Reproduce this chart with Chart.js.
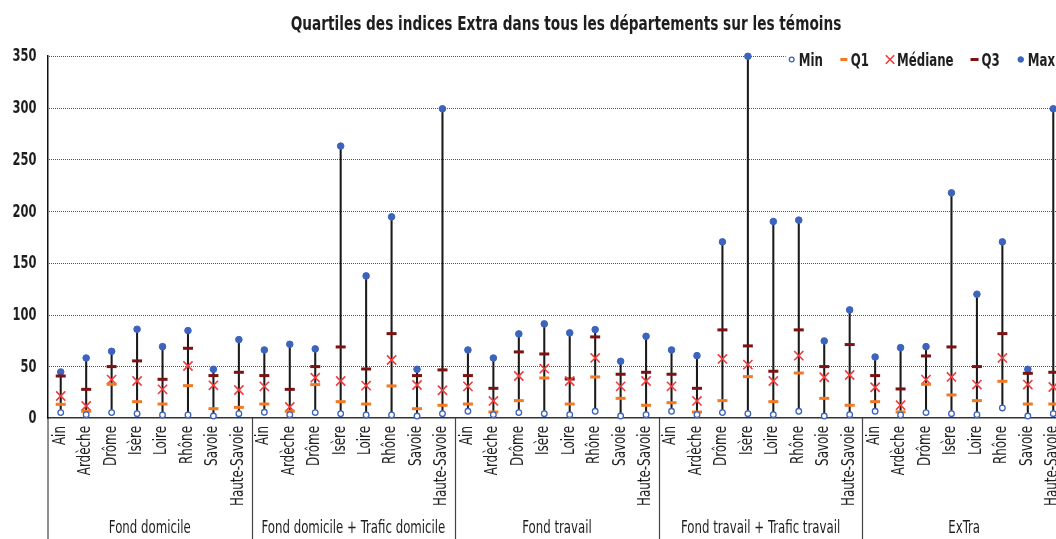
<!DOCTYPE html>
<html>
<head>
<meta charset="utf-8">
<script src="https://cdn.jsdelivr.net/npm/chart.js@4.4.1/dist/chart.umd.min.js"></script>
<style>
  html, body { margin: 0; padding: 0; background: #fff; overflow: hidden; }
  #wrap { position: relative; width: 1132px; height: 539px; }
</style>
</head>
<body>
<div id="wrap"><canvas id="c"></canvas></div>
<script>
const titre = 'Quartiles des indices Extra dans tous les départements sur les témoins';
const departements = ['Ain','Ardèche','Drôme','Isère','Loire','Rhône','Savoie','Haute-Savoie'];
const groupes = ['Fond domicile','Fond domicile + Trafic domicile','Fond travail','Fond travail + Trafic travail','ExTra'];
const yTicks = [0, 50, 100, 150, 200, 250, 300, 350];

const minVals = [
  5.2, 3.2, 5.2, 4.2, 2.9, 2.9, 1.9, 4.2,
  5.5, 3.2, 5.2, 4.2, 2.9, 2.9, 1.9, 4.2,
  6.5, 3.2, 5.2, 4.2, 3.2, 6.5, 1.9, 3.2,
  6.5, 3.2, 5.2, 4.2, 3.2, 6.5, 1.9, 3.2,
  6.5, 2.9, 5.2, 4.2, 3.2, 9.7, 1.9, 4.2
];
const q1Vals = [
  13.2, 6.5, 32.6, 15.8, 13.5, 31.3, 9.0, 10.3,
  13.5, 6.5, 32.3, 15.8, 13.5, 31.0, 9.0, 12.3,
  13.5, 5.8, 16.8, 38.7, 13.5, 39.7, 19.0, 12.3,
  14.8, 5.8, 16.8, 40.0, 15.8, 43.5, 19.0, 12.3,
  15.8, 5.9, 32.6, 22.3, 16.8, 35.5, 13.5, 13.5
];
const medVals = [
  21.3, 11.6, 37.1, 35.8, 27.7, 50.3, 31.6, 27.1,
  30.6, 10.6, 39.0, 35.8, 31.3, 56.1, 31.9, 26.8,
  30.6, 16.5, 40.6, 47.7, 35.8, 58.1, 30.6, 35.8,
  30.6, 16.5, 57.1, 51.6, 35.8, 60.3, 39.4, 41.6,
  29.7, 12.4, 37.1, 39.7, 32.3, 58.1, 32.3, 30.0
];
const q3Vals = [
  40.6, 27.7, 49.7, 55.2, 37.4, 67.4, 41.0, 44.2,
  41.0, 27.7, 49.7, 68.7, 47.4, 81.6, 41.0, 46.5,
  41.0, 28.7, 63.9, 61.9, 37.7, 78.4, 42.3, 44.2,
  42.3, 28.7, 85.2, 69.7, 45.2, 85.2, 49.7, 71.0,
  41.0, 28.1, 60.0, 68.7, 49.7, 81.6, 43.2, 44.2
];
const maxVals = [
  44.5, 58.0, 64.5, 85.8, 69.0, 84.5, 47.1, 75.8,
  65.8, 71.3, 66.8, 262.9, 137.4, 194.5, 47.1, 299.0,
  65.8, 58.0, 81.3, 91.0, 82.3, 85.5, 54.8, 79.0,
  65.8, 60.3, 170.3, 349.7, 190.0, 191.3, 74.5, 104.5,
  59.0, 68.0, 69.0, 217.7, 119.7, 170.3, 47.1, 299.0
];

const labels = [];
groupes.forEach(() => departements.forEach(d => labels.push(d)));
const ranges = minVals.map((v, i) => [v, maxVals[i]]);

const FAM = '"DejaVu Sans Condensed", "DejaVu Sans", sans-serif';
const BLUE = '#3c63bd', ORANGE = '#f47a22', RED = '#f23b3b', DARKRED = '#7c1212', INK = '#1e1e1e';

// condensed text: horizontal squeeze of a real font
function ctext(ctx, text, x, y, o) {
  ctx.save();
  ctx.translate(x, y);
  if (o.rotate) ctx.rotate(o.rotate);
  ctx.scale(o.sx, 1);
  ctx.font = o.font;
  ctx.fillStyle = o.color || INK;
  ctx.textAlign = o.align || 'left';
  ctx.textBaseline = o.baseline || 'alphabetic';
  ctx.fillText(text, 0, 0);
  ctx.restore();
}
function cwidth(ctx, text, font, sx) {
  ctx.save(); ctx.font = font; const w = ctx.measureText(text).width * sx; ctx.restore(); return w;
}

function drawMarker(ctx, style, x, y, r, fill, stroke, lw) {
  ctx.save();
  ctx.lineWidth = lw;
  ctx.strokeStyle = stroke;
  ctx.fillStyle = fill;
  ctx.beginPath();
  if (style === 'circle') {
    ctx.arc(x, y, r, 0, Math.PI * 2);
    ctx.fill();
    ctx.stroke();
  } else if (style === 'line') {
    ctx.moveTo(x - r, y); ctx.lineTo(x + r, y); ctx.stroke();
  } else if (style === 'crossRot') {
    const d = r * Math.SQRT1_2;
    ctx.moveTo(x - d, y - d); ctx.lineTo(x + d, y + d);
    ctx.moveTo(x + d, y - d); ctx.lineTo(x - d, y + d);
    ctx.stroke();
  }
  ctx.restore();
}

// dotted horizontal grid lines, placed by the y scale
const dottedGrid = {
  id: 'dottedGrid',
  beforeDatasetsDraw(chart, args, opts) {
    const ctx = chart.ctx, ca = chart.chartArea, ys = chart.scales.y;
    ctx.save();
    ctx.strokeStyle = opts.color;
    ctx.lineWidth = 1;
    ctx.setLineDash([1, 1]);
    ys.ticks.forEach(t => {
      if (t.value === 0) return;
      const y = Math.round(ys.getPixelForValue(t.value)) + 0.5;
      ctx.beginPath();
      ctx.moveTo(ca.left + 1, y);
      ctx.lineTo(ca.right, y);
      ctx.stroke();
    });
    ctx.restore();
  }
};

const textLayer = {
  id: 'textLayer',
  afterDraw(chart, args, opts) {
    const ctx = chart.ctx;
    const ca = chart.chartArea;
    const xs = chart.scales.x, ys = chart.scales.y;
    const n = departements.length;
    const H = chart.height;

    ctext(ctx, titre, chart.width / 2, opts.title.baseline, { font: opts.title.font, sx: opts.title.sx, align: 'center' });

    ys.ticks.forEach(t => {
      ctext(ctx, String(t.value), ca.left - opts.y.gap, ys.getPixelForValue(t.value) + 1,
        { font: opts.y.font, sx: opts.y.sx, align: 'right', baseline: 'middle' });
    });

    labels.forEach((lab, i) => {
      ctext(ctx, lab, xs.getPixelForValue(i) - 0.5, ca.bottom + opts.x.gap,
        { font: opts.x.font, sx: opts.x.sx, align: 'right', baseline: 'middle', rotate: -Math.PI / 2 });
    });

    ctx.save();
    ctx.strokeStyle = opts.groups.lineColor;
    ctx.lineWidth = 1.2;
    ctx.beginPath();
    ctx.moveTo(ca.left, ca.bottom); ctx.lineTo(ca.left, H);
    for (let g = 1; g < groupes.length; g++) {
      const xb = Math.round((xs.getPixelForValue(g * n - 1) + xs.getPixelForValue(g * n)) / 2) + 0.5;
      ctx.moveTo(xb, ca.bottom); ctx.lineTo(xb, H);
    }
    ctx.stroke();
    ctx.restore();
    groupes.forEach((g, gi) => {
      const x0 = xs.getPixelForValue(gi * n), x1 = xs.getPixelForValue(gi * n + n - 1);
      ctext(ctx, g, (x0 + x1) / 2, H - opts.groups.bottomInset, { font: opts.groups.font, sx: opts.groups.sx, align: 'center' });
    });

    const L = opts.legend;
    const items = chart.data.datasets.filter(d => d.legendMarker);
    const tw = items.map(d => cwidth(ctx, d.label, L.font, L.sx));
    const total = tw.reduce((a, b) => a + b, 0) + items.length * L.markerToText + (items.length - 1) * L.textToMarker;
    let x = ca.right - L.rightInset - total;
    const yMid = ca.top + L.dy;
    ctx.save();
    ctx.fillStyle = '#fff';
    ctx.fillRect(x - 6, yMid - 8, total + 40, 17);
    ctx.restore();
    items.forEach((d, i) => {
      const m = d.legendMarker;
      drawMarker(ctx, m.style, x, yMid, m.lr, m.fill, m.stroke, m.lw);
      ctext(ctx, d.label, x + L.markerToText, yMid + L.baselineOffset, { font: L.font, sx: L.sx, align: 'left' });
      x += L.markerToText + tw[i] + L.textToMarker;
    });
  }
};

const lineDs = (label, data, style, r, lr, fill, stroke, lw) => ({
  type: 'line',
  label,
  data,
  showLine: false,
  clip: false,
  pointStyle: style,
  pointRadius: r,
  pointHoverRadius: r,
  pointBackgroundColor: fill,
  pointBorderColor: stroke,
  pointBorderWidth: lw,
  order: 1,
  legendMarker: { style, lr, fill, stroke, lw }
});

new Chart(document.getElementById('c'), {
  type: 'bar',
  data: {
    labels,
    datasets: [
      {
        type: 'bar',
        label: 'Étendue',
        data: ranges,
        backgroundColor: '#1a1a1a',
        borderWidth: 0,
        barThickness: 1.4,
        grouped: false,
        order: 10
      },
      lineDs('Min', minVals, 'circle', 2.8, 2.4, '#fff', BLUE, 1.3),
      lineDs('Q1', q1Vals, 'line', 5, 3.5, ORANGE, ORANGE, 3),
      lineDs('Médiane', medVals, 'crossRot', 6.5, 6, RED, RED, 1.6),
      lineDs('Q3', q3Vals, 'line', 5, 4, DARKRED, DARKRED, 3),
      lineDs('Max', maxVals, 'circle', 3.3, 2.8, BLUE, BLUE, 1)
    ]
  },
  options: {
    responsive: true,
    maintainAspectRatio: false,
    animation: false,
    layout: { padding: { left: 0, right: 66, top: 56, bottom: 0 } },
    plugins: {
      legend: { display: false },
      tooltip: { enabled: false },
      title: { display: false },
      dottedGrid: { color: '#555555' },
      textLayer: {
        title: { font: 'bold 19px ' + FAM, sx: 0.8, baseline: 30 },
        y: { font: 'bold 17px ' + FAM, sx: 0.75, gap: 11.5 },
        x: { font: '17px ' + FAM, sx: 0.78, gap: 8 },
        groups: { font: '17px ' + FAM, sx: 0.77, lineColor: '#444', bottomInset: 6 },
        legend: { font: 'bold 17px ' + FAM, sx: 0.77, rightInset: 11, dy: 3.5, markerToText: 7, textToMarker: 21, baselineOffset: 6.5 }
      }
    },
    scales: {
      x: {
        offset: true,
        grid: { display: false, drawTicks: false },
        border: { display: true, color: '#333', width: 1.5 },
        ticks: { display: false, autoSkip: false },
        afterFit(scale) { scale.height = 121; }
      },
      y: {
        min: 0,
        max: 350,
        afterBuildTicks(scale) { scale.ticks = yTicks.map(v => ({ value: v })); },
        grid: { display: false, drawTicks: false },
        border: { display: true, color: '#111', width: 1.5 },
        ticks: { display: false },
        afterFit(scale) { scale.width = 48; }
      }
    }
  },
  plugins: [dottedGrid, textLayer]
});
</script>
</body>
</html>
